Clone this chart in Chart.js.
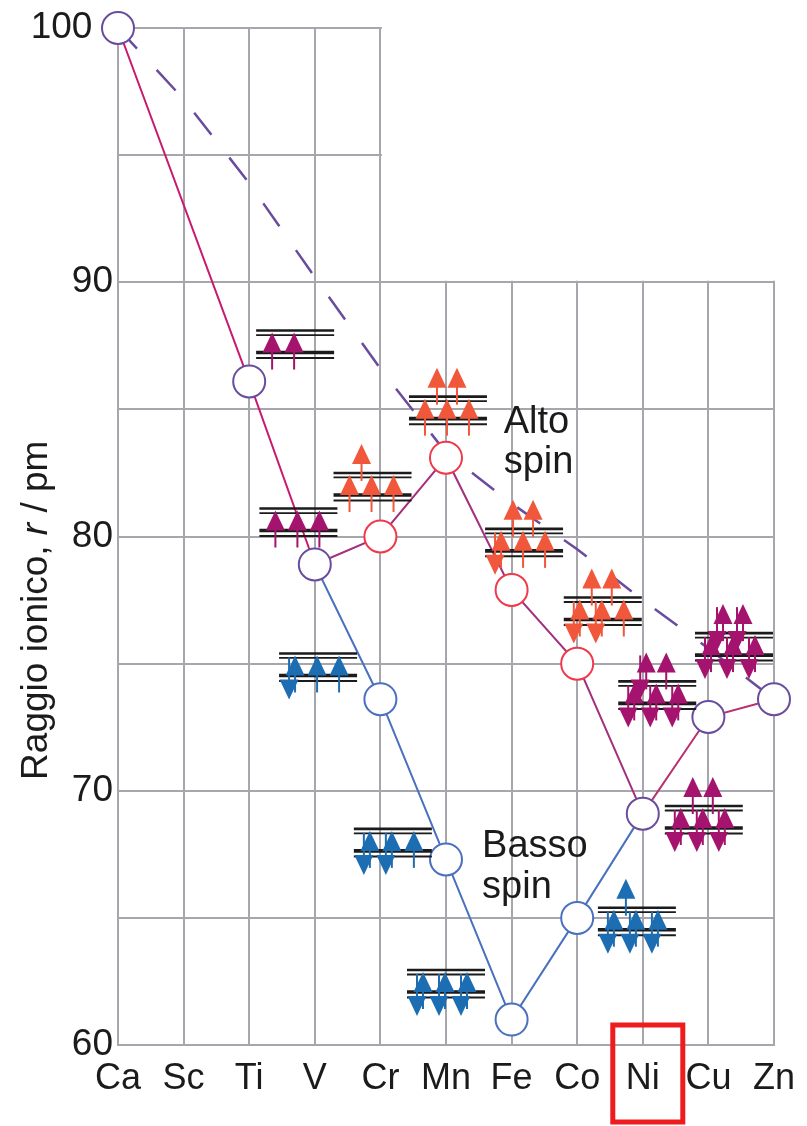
<!DOCTYPE html>
<html>
<head>
<meta charset="utf-8">
<script src="https://cdn.jsdelivr.net/npm/chart.js@4.4.1/dist/chart.umd.min.js"></script>
<style>
  body { margin: 0; background: #fff; }
  #wrap { width: 807px; height: 1126px; }
</style>
</head>
<body>
<div id="wrap"><canvas id="raggioChart" width="807" height="1126"></canvas></div>
<script>
// Dati
const elementi = ['Ca', 'Sc', 'Ti', 'V', 'Cr', 'Mn', 'Fe', 'Co', 'Ni', 'Cu', 'Zn'];
const raggioIniziale = [100, null, 86.1, 78.9, null, null, null, null, null, null, null];
const altoSpin = [null, null, null, 78.9, 80.0, 83.1, 77.9, 75.0, 69.1, null, null];
const bassoSpin = [null, null, null, 78.9, 73.6, 67.3, 61.0, 65.0, 69.1, null, null];
const raggioFinale = [null, null, null, null, null, null, null, null, 69.1, 72.9, 73.6];
const andamentoSferico = [100, 97.2, 93.9, 90.2, 86.6, 83.3, 81.3, 79.5, 77.5, 75.6, 73.6];
const yTicks = [60, 70, 80, 90, 100];

// Configurazioni elettroniche d (t2g / eg)
const ioni = ['Ti', 'V', 'Cr', 'Mn', 'Fe', 'Co', 'Ni', 'Cu', 'Zn', 'Cr', 'Mn', 'Fe', 'Co'];
const spinIone = ['-', '-', 'alto', 'alto', 'alto', 'alto', '-', '-', '-', 'basso', 'basso', 'basso', 'basso'];
const t2gSu = [2, 3, 3, 3, 3, 3, 3, 3, 3, 3, 3, 3, 3];
const t2gGiu = [0, 0, 0, 0, 1, 2, 3, 3, 3, 1, 2, 3, 3];
const egSu = [0, 0, 1, 2, 2, 2, 2, 2, 2, 0, 0, 0, 1];
const egGiu = [0, 0, 0, 0, 0, 0, 0, 1, 2, 0, 0, 0, 0];

// Dove stanno i diagrammi (indice elemento, valore del livello eg)
const posDiagrammi = [
  [2.70, 88.1], [2.75, 81.1], [3.88, 82.5], [5.03, 85.5], [6.19, 80.3], [7.39, 77.6],
  [8.93, 69.4], [8.22, 74.3], [9.39, 76.2],
  [3.05, 75.4], [4.19, 68.5], [5.0, 62.95], [7.91, 65.4]
];

const GRIGIO = '#a6a6ac';
const VIOLA = '#6a4c9e';
const ROSSO = '#ee3a4a';
const BLU = '#4a70bf';
const FONT = '"Liberation Sans", Arial, sans-serif';

function coloreFreccia(i) {
  if (spinIone[i] === 'alto') return '#f1573b';
  if (spinIone[i] === 'basso') return '#1d6db3';
  return '#a4136d';
}

function freccia(ctx, x, yPunta, yCoda, colore) {
  const dir = yPunta < yCoda ? 1 : -1;
  ctx.strokeStyle = colore;
  ctx.fillStyle = colore;
  ctx.lineWidth = 2;
  ctx.beginPath();
  ctx.moveTo(x, yCoda);
  ctx.lineTo(x, yPunta + dir * 14);
  ctx.stroke();
  ctx.beginPath();
  ctx.moveTo(x, yPunta);
  ctx.lineTo(x - 9.5, yPunta + dir * 20);
  ctx.lineTo(x + 9.5, yPunta + dir * 20);
  ctx.closePath();
  ctx.fill();
}

function linea(ctx, x1, x2, y, w) {
  ctx.strokeStyle = '#1b1b1b';
  ctx.lineWidth = w;
  ctx.beginPath();
  ctx.moveTo(x1, y);
  ctx.lineTo(x2, y);
  ctx.stroke();
}

function disegnaDiagramma(ctx, cx, yU, i) {
  const w = 78;
  const left = cx - w / 2;
  const yL = yU + 22;
  const col = coloreFreccia(i);

  linea(ctx, left, left + w, yU, 2.6);
  linea(ctx, left, left + w, yU + 4.5, 1.8);
  linea(ctx, left, left + w, yL, 3.6);
  linea(ctx, left, left + w, yL + 5.5, 2);

  const xt2g = [16, 38, 60];
  const xeg = [28, 48];
  for (let k = 0; k < t2gGiu[i]; k++) {
    freccia(ctx, left + xt2g[k] - 6, yL + 24, yL - 18, col);
  }
  for (let k = 0; k < t2gSu[i]; k++) {
    freccia(ctx, left + xt2g[k], yL - 20, yL + 17, col);
  }
  for (let k = 0; k < egGiu[i]; k++) {
    freccia(ctx, left + xeg[k] - 6, yU + 18, yU - 26, col);
  }
  for (let k = 0; k < egSu[i]; k++) {
    freccia(ctx, left + xeg[k], yU - 29, yU + 8, col);
  }
}

// Copre la griglia in alto a destra (sopra 90, dopo Cr)
const mascheraGriglia = {
  id: 'mascheraGriglia',
  beforeDatasetsDraw(chart) {
    const { ctx, scales } = chart;
    const x0 = scales.x.getPixelForValue(4) + 1.5;
    const y90 = scales.y.getPixelForValue(90) - 1.5;
    ctx.save();
    ctx.fillStyle = '#fff';
    ctx.fillRect(x0, 0, chart.width - x0, y90);
    ctx.restore();
  }
};

const decorazioni = {
  id: 'decorazioni',
  afterDatasetsDraw(chart) {
    const { ctx, scales } = chart;
    const xs = scales.x, ys = scales.y;
    ctx.save();

    posDiagrammi.forEach((p, i) => {
      disegnaDiagramma(ctx, xs.getPixelForValue(p[0]), ys.getPixelForValue(p[1]), i);
    });

    // Etichette Alto / Basso spin
    ctx.fillStyle = '#1b1b1b';
    ctx.font = '38px ' + FONT;
    ctx.textAlign = 'left';
    ctx.textBaseline = 'middle';
    ctx.fillText('Alto', xs.getPixelForValue(5.88), ys.getPixelForValue(84.5));
    ctx.fillText('spin', xs.getPixelForValue(5.88), ys.getPixelForValue(82.9));
    ctx.fillText('Basso', xs.getPixelForValue(5.55), ys.getPixelForValue(67.8));
    ctx.fillText('spin', xs.getPixelForValue(5.55), ys.getPixelForValue(66.2));

    // Titolo asse y con r in corsivo
    const parti = [['Raggio ionico, ', ''], ['r', 'italic '], [' / pm', '']];
    let totale = 0;
    parti.forEach(pp => { ctx.font = pp[1] + '37px ' + FONT; totale += ctx.measureText(pp[0]).width; });
    ctx.translate(37, ys.getPixelForValue(77.1));
    ctx.rotate(-Math.PI / 2);
    let x = -totale / 2;
    parti.forEach(pp => {
      ctx.font = pp[1] + '37px ' + FONT;
      ctx.fillText(pp[0], x, 0);
      x += ctx.measureText(pp[0]).width;
    });
    ctx.restore();
  },
  afterDraw(chart) {
    const { ctx, scales } = chart;
    const cx = scales.x.getPixelForValue(8) + 5;
    const top = scales.y.getPixelForValue(60) - 20;
    ctx.save();
    ctx.strokeStyle = '#ee1c1c';
    ctx.lineWidth = 5;
    ctx.strokeRect(cx - 35, top, 70, chart.height - 4 - top);
    ctx.restore();
  }
};

function raggi(indici, r) {
  return ctx => (indici.includes(ctx.dataIndex) ? r : 0);
}

const ctx = document.getElementById('raggioChart').getContext('2d');
new Chart(ctx, {
  type: 'line',
  data: {
    labels: elementi,
    datasets: [
      {
        label: 'andamento',
        data: andamentoSferico,
        borderColor: VIOLA,
        borderWidth: 2.5,
        borderDash: [28, 29],
        pointRadius: 0,
        order: 6
      },
      {
        label: 'Alto spin',
        data: altoSpin,
        borderColor: '#a3307c',
        borderWidth: 2,
        pointRadius: raggi([4, 5, 6, 7], 16),
        pointBorderColor: ROSSO,
        pointBorderWidth: 2,
        pointBackgroundColor: '#fff',
        order: 4
      },
      {
        label: 'Basso spin',
        data: bassoSpin,
        borderColor: BLU,
        borderWidth: 2,
        pointRadius: raggi([4, 5, 6, 7], 16),
        pointBorderColor: BLU,
        pointBorderWidth: 2,
        pointBackgroundColor: '#fff',
        order: 4
      },
      {
        label: 'inizio',
        data: raggioIniziale,
        spanGaps: true,
        borderColor: '#c9196f',
        borderWidth: 2,
        pointRadius: raggi([0, 2, 3], 16),
        pointBorderColor: VIOLA,
        pointBorderWidth: 2,
        pointBackgroundColor: '#fff',
        clip: false,
        order: 1
      },
      {
        label: 'fine',
        data: raggioFinale,
        borderColor: '#b8306f',
        borderWidth: 2,
        pointRadius: raggi([8, 9, 10], 16),
        pointBorderColor: VIOLA,
        pointBorderWidth: 2,
        pointBackgroundColor: '#fff',
        clip: false,
        order: 1
      }
    ]
  },
  options: {
    responsive: false,
    animation: false,
    layout: { padding: { top: 28, right: 31, left: 0, bottom: 0 } },
    plugins: { legend: { display: false }, tooltip: { enabled: false } },
    scales: {
      x: {
        grid: { color: GRIGIO, lineWidth: 2, drawTicks: false },
        border: { color: GRIGIO, width: 2 },
        ticks: { color: '#1b1b1b', font: { family: FONT, size: 36 }, padding: 12, autoSkip: false, maxRotation: 0 },
        afterFit: s => { s.height = 81; }
      },
      y: {
        min: 60,
        max: 100,
        grid: { color: GRIGIO, lineWidth: 2, drawTicks: false },
        border: { color: GRIGIO, width: 2 },
        ticks: {
          stepSize: 5,
          color: '#1b1b1b',
          font: { family: FONT, size: 37 },
          padding: 5,
          callback: v => (yTicks.includes(v) ? (v === 100 ? '100  ' : String(v)) : '')
        },
        afterFit: s => { s.width = 118; }
      }
    }
  },
  plugins: [mascheraGriglia, decorazioni]
});
</script>
</body>
</html>
